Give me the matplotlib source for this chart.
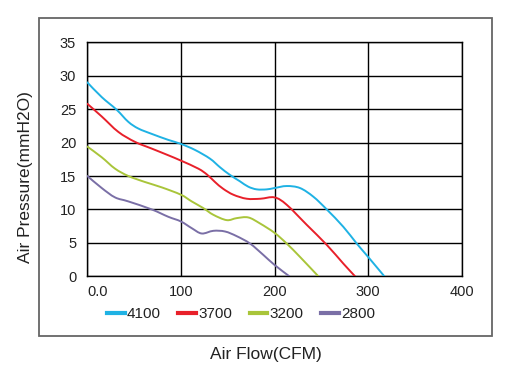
import matplotlib
matplotlib.use("Agg")
import matplotlib.pyplot as plt
import numpy as np
from matplotlib.patches import Rectangle, PathPatch
from matplotlib.path import Path
from matplotlib.lines import Line2D

plt.rcParams['font.family'] = ['Liberation Sans', 'DejaVu Sans']

# fan curves (CFM, mmH2O)
x_4100 = [0, 15.4, 31.4, 43.8, 54.5, 68.8, 86.5, 100, 115, 131, 141.8, 152, 163.1, 172, 181,
          191.7, 200, 213, 227.2, 241.5, 255.8, 273.5, 287.8, 300, 317.3]
y_4100 = [29.0, 26.8, 24.9, 23.1, 22.1, 21.3, 20.4, 19.8, 18.9, 17.6, 16.3, 15.2, 14.2, 13.4, 13.0,
          13.0, 13.2, 13.5, 13.2, 11.9, 10.0, 7.4, 4.9, 2.9, 0]

x_3700 = [0, 15.4, 33.1, 51, 68.8, 86.5, 100, 118.6, 128, 136.4, 145, 156, 170.3, 185, 200,
          213, 234.4, 255.8, 273.5, 286]
y_3700 = [25.8, 23.9, 21.6, 20.1, 19.1, 18.1, 17.3, 16.1, 15.2, 14.1, 13.1, 12.2, 11.6, 11.6, 11.8,
          10.7, 7.7, 4.7, 1.9, 0]

x_3200 = [0, 15.4, 29.6, 43.8, 61.6, 79.5, 100, 111.5, 123.9, 134.6, 148.9, 159.6, 172,
          184.5, 200, 213, 227.2, 246.8]
y_3200 = [19.4, 17.8, 16.1, 15.0, 14.1, 13.3, 12.2, 11.2, 10.2, 9.2, 8.4, 8.7, 8.8,
          7.9, 6.5, 4.9, 2.9, 0]

x_2800 = [0, 15.4, 29.6, 43.8, 68.8, 86.5, 100, 111.5, 122.2, 134.6, 147.1, 159.6, 173.8,
          188, 200, 215.8]
y_2800 = [15.0, 13.2, 11.8, 11.2, 10.0, 8.9, 8.2, 7.2, 6.4, 6.8, 6.7, 6.0, 4.9,
          3.2, 1.7, 0]

series = [("4100", x_4100, y_4100, "#1fb2e4"),
          ("3700", x_3700, y_3700, "#e8202a"),
          ("3200", x_3200, y_3200, "#a9c53a"),
          ("2800", x_2800, y_2800, "#7a6fa6")]

x_ticks = [0, 100, 200, 300, 400]
x_tick_labels = ["0.0", "100", "200", "300", "400"]
y_ticks = [0, 5, 10, 15, 20, 25, 30, 35]


def smooth_path(xs, ys):
    # catmull-rom through the read points, drawn as cubic bezier segments
    p = np.column_stack([xs, ys]).astype(float)
    verts = [p[0]]
    codes = [Path.MOVETO]
    for i in range(len(p) - 1):
        p0 = p[i - 1] if i > 0 else p[i]
        p3 = p[i + 2] if i + 2 < len(p) else p[i + 1]
        c1 = p[i] + (p[i + 1] - p0) / 6
        c2 = p[i + 1] - (p3 - p[i]) / 6
        verts += [c1, c2, p[i + 1]]
        codes += [Path.CURVE4] * 3
    return Path(verts, codes)


fig = plt.figure(figsize=(5.08, 3.71), dpi=100)
ax = fig.add_axes([0.1719, 0.2553, 0.737, 0.6307])

handles = []
for name, xs, ys, col in series:
    ax.add_patch(PathPatch(smooth_path(xs, ys), fill=False, edgecolor=col, lw=1.4,
                           capstyle='round', joinstyle='round', zorder=3))
    handles.append(Line2D([], [], color=col, lw=3, label=name))

ax.set_xlim(0, 400)
ax.set_ylim(0, 35)
ax.set_xticks(x_ticks)
ax.set_xticklabels(x_tick_labels)
ax.set_yticks(y_ticks)
ax.grid(True, color='black', lw=1.0)
ax.set_axisbelow(True)
for sp in ax.spines.values():
    sp.set_color('black')
    sp.set_linewidth(1.0)
ax.tick_params(length=0, labelsize=10.5, colors='#222222')
ax.tick_params(axis='y', pad=8)
ax.tick_params(axis='x', pad=6)
ax.get_xticklabels()[0].set_horizontalalignment('left')

leg = fig.legend(handles=handles, loc='center left', bbox_to_anchor=(107 / 508, 1 - 314 / 371),
                 ncol=4, frameon=False, fontsize=11, handlelength=1.15,
                 handletextpad=0.15, columnspacing=1.15, borderpad=0, borderaxespad=0)
for t in leg.get_texts():
    t.set_color('#222222')

fig.text(265.5 / 508, 1 - 355 / 371, "Air Flow(CFM)", ha='center', va='center',
         fontsize=12.5, color='#222222')
fig.text(26 / 508, 1 - 177 / 371, "Air Pressure(mmH2O)", ha='center', va='center',
         rotation=90, fontsize=12.5, color='#222222')

# outer grey frame
fig.patches.append(Rectangle((39 / 508, 1 - 336 / 371), (492 - 39) / 508, (336 - 18) / 371,
                             transform=fig.transFigure, fill=False,
                             edgecolor='#666666', lw=1.3))

fig.savefig("out.png", dpi=100)
